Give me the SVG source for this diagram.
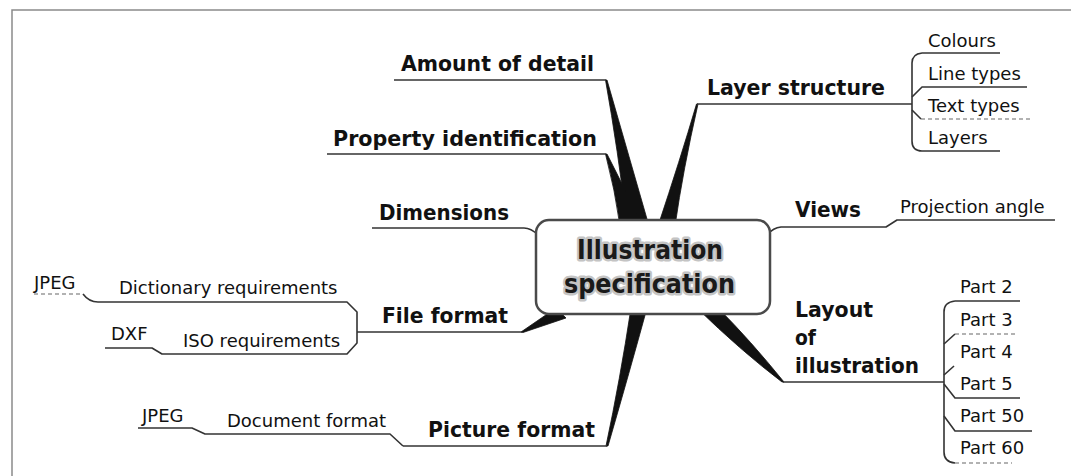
<svg xmlns="http://www.w3.org/2000/svg" width="1071" height="476" viewBox="0 0 1071 476">
<style>
.b{font-family:"DejaVu Sans","Liberation Sans",sans-serif;font-weight:bold;font-size:22px;fill:#111}
.r{font-family:"DejaVu Sans","Liberation Sans",sans-serif;font-size:18px;fill:#111}
.t{font-family:"DejaVu Sans","Liberation Sans",sans-serif;font-weight:bold;font-size:27px;fill:#1a1a1a;stroke:#c4c4c4;stroke-width:5;stroke-linejoin:round;paint-order:stroke}
.ln{fill:none;stroke:#333;stroke-width:1.6;stroke-linejoin:round}
.dl{fill:none;stroke:#666;stroke-width:1.2;stroke-dasharray:4 3}
.w{fill:#111;stroke:#111;stroke-width:0.8;stroke-linejoin:round}
.fr{fill:none;stroke:#8a8a8a;stroke-width:1.5}
</style>
<path class="fr" d="M12,476 V10 H1071"/>
<g id="connectors">
  <path class="w" d="M605.5,80 L607,80 Q630,160 649,226 L627,226 Q618,150 605.5,80 Z"/>
  <path class="w" d="M605.5,154 L607,154 Q628,195 642,226 L620,226 Q615,190 605.5,154 Z"/>
  <path class="w" d="M696.5,104 L698,104 Q683,170 675,226 L658,226 Q680,160 696.5,104 Z"/>
  <path class="w" d="M521,332 L523,332.5 L566,318 L556,308 Z"/>
  <path class="w" d="M606,446 L608,446 Q630,370 647,308 L631,308 Q620,380 606,446 Z"/>
  <path class="w" d="M782,382 L784,382 Q750,340 718,308 L697,308 Q740,350 782,382 Z"/>
  <path class="ln" d="M394,80 H606"/>
  <path class="ln" d="M327,154 H606"/>
  <path class="ln" d="M372,228 H524 Q531,228 538,235"/>
  <path class="ln" d="M697,104 H912"/>
  <path class="ln" d="M768,234 Q773,228 781,227 H886 L897,220 H1055"/>
  <path class="ln" d="M922,53 Q912,54 912,63 V141 Q912,151 922,151 H1000"/>
  <path class="ln" d="M922,53 H1000"/>
  <path class="ln" d="M912,97 L922,87 H1027"/>
  <path class="ln" d="M912,110 L921,119"/>
  <path class="dl" d="M921,119 H1030"/>
  <path class="ln" d="M357,332 H522"/>
  <path class="ln" d="M98,302 H347 L357,312 V343 L347,354 H162 L152,348 H105"/>
  <path class="ln" d="M83,294 Q89,302 98,302"/>
  <path class="dl" d="M34,294 H81"/>
  <path class="ln" d="M403,446 H607"/>
  <path class="ln" d="M138,428 H192 L205,434 H390 L403,446"/>
  <path class="ln" d="M783,382 H944"/>
  <path class="ln" d="M955,301 H1020"/>
  <path class="ln" d="M955,301 Q944,302 944,312 V452 Q944,462 955,463"/>
  <path class="ln" d="M944,344 L955,334"/>
  <path class="dl" d="M955,334 H1018"/>
  <path class="ln" d="M944,375 L954,366"/>
  <path class="ln" d="M944,384 L955,398 H1020"/>
  <path class="ln" d="M944,416 L955,431 H1032"/>
  <path class="dl" d="M955,463 H1012"/>
</g>
<g id="center">
  <rect x="536" y="220" width="234" height="94" rx="13" ry="13" fill="#fff" stroke="#4a4a4a" stroke-width="2.5"/>
  <text class="t" x="577" y="259" textLength="146" lengthAdjust="spacingAndGlyphs">Illustration</text>
  <text class="t" x="564" y="293" textLength="171" lengthAdjust="spacingAndGlyphs">specification</text>
</g>
<g id="amount-of-detail"><text class="b" x="401" y="71" textLength="193" lengthAdjust="spacingAndGlyphs">Amount of detail</text></g>
<g id="property-identification"><text class="b" x="333" y="146" textLength="264" lengthAdjust="spacingAndGlyphs">Property identification</text></g>
<g id="dimensions"><text class="b" x="379" y="220" textLength="130" lengthAdjust="spacingAndGlyphs">Dimensions</text></g>
<g id="layer-structure"><text class="b" x="707" y="95" textLength="178" lengthAdjust="spacingAndGlyphs">Layer structure</text></g>
<g id="colours"><text class="r" x="928" y="47">Colours</text></g>
<g id="line-types"><text class="r" x="928" y="80">Line types</text></g>
<g id="text-types"><text class="r" x="928" y="112">Text types</text></g>
<g id="layers"><text class="r" x="928" y="144">Layers</text></g>
<g id="views"><text class="b" x="795" y="217" textLength="66" lengthAdjust="spacingAndGlyphs">Views</text></g>
<g id="projection-angle"><text class="r" x="900" y="213">Projection angle</text></g>
<g id="layout-of-illustration">
  <text class="b" x="795" y="317" textLength="78" lengthAdjust="spacingAndGlyphs">Layout</text>
  <text class="b" x="795" y="345" textLength="21" lengthAdjust="spacingAndGlyphs">of</text>
  <text class="b" x="795" y="373" textLength="124" lengthAdjust="spacingAndGlyphs">illustration</text>
</g>
<g id="part-2"><text class="r" x="960" y="293">Part 2</text></g>
<g id="part-3"><text class="r" x="960" y="326">Part 3</text></g>
<g id="part-4"><text class="r" x="960" y="358">Part 4</text></g>
<g id="part-5"><text class="r" x="960" y="390">Part 5</text></g>
<g id="part-50"><text class="r" x="960" y="422">Part 50</text></g>
<g id="part-60"><text class="r" x="960" y="454">Part 60</text></g>
<g id="file-format"><text class="b" x="382" y="323" textLength="126" lengthAdjust="spacingAndGlyphs">File format</text></g>
<g id="dictionary-requirements"><text class="r" x="119" y="294">Dictionary requirements</text></g>
<g id="jpeg-1"><text class="r" x="34" y="289">JPEG</text></g>
<g id="iso-requirements"><text class="r" x="183" y="347">ISO requirements</text></g>
<g id="dxf"><text class="r" x="111" y="340">DXF</text></g>
<g id="picture-format"><text class="b" x="428" y="437" textLength="167" lengthAdjust="spacingAndGlyphs">Picture format</text></g>
<g id="document-format"><text class="r" x="227" y="427">Document format</text></g>
<g id="jpeg-2"><text class="r" x="142" y="422">JPEG</text></g>
</svg>
